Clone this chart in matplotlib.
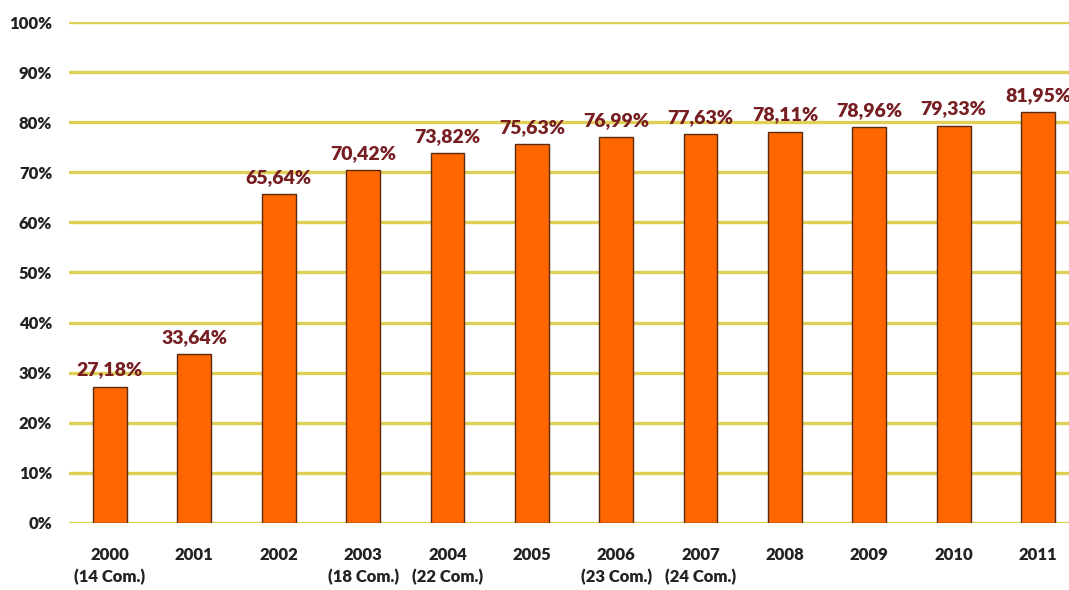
import matplotlib
matplotlib.use("Agg")
import matplotlib.pyplot as plt

years = ["2000", "2001", "2002", "2003", "2004", "2005",
         "2006", "2007", "2008", "2009", "2010", "2011"]
notes = ["(14 Com.)", "", "", "(18 Com.)", "(22 Com.)", "",
         "(23 Com.)", "(24 Com.)", "", "", "", ""]
values = [27.18, 33.64, 65.64, 70.42, 73.82, 75.63,
          76.99, 77.63, 78.11, 78.96, 79.33, 81.95]
yticks = [0, 10, 20, 30, 40, 50, 60, 70, 80, 90, 100]

plt.rcParams["font.family"] = ["Lato", "DejaVu Sans"]

fig = plt.figure(figsize=(10.69, 5.90), dpi=100)
ax = fig.add_axes([0.0645, 0.1136, 0.9355, 0.8491])

x = range(len(years))
ax.bar(x, values, width=0.40, color="#FF6600", edgecolor="#5A2A10",
       linewidth=1.0, zorder=3)

# value labels, comma decimals
for xi, v in zip(x, values):
    ax.annotate(f"{v:.2f}%".replace(".", ","), (xi, v),
                xytext=(0, 6), textcoords="offset points",
                ha="center", va="bottom", fontsize=14, fontweight="heavy",
                color="#761E22", zorder=4)

for t in yticks:
    ax.axhline(t, color="#E0CF55", linewidth=2.4, zorder=1)

ax.set_ylim(0, 100)
ax.set_xlim(-0.486, 11.367)
ax.set_yticks(yticks)
ax.set_yticklabels([f"{t}%" for t in yticks], fontsize=12,
                   fontweight="heavy", color="#222222")
ax.set_xticks(list(x))
ax.set_xticklabels([f"{y}\n{n}" if n else y for y, n in zip(years, notes)],
                   fontsize=12, fontweight="heavy", color="#222222",
                   va="top", linespacing=1.45)
ax.tick_params(axis="both", length=0)
ax.tick_params(axis="y", pad=12)
ax.tick_params(axis="x", pad=17)
for s in ax.spines.values():
    s.set_visible(False)

fig.savefig("out.png", dpi=100, facecolor="white")
